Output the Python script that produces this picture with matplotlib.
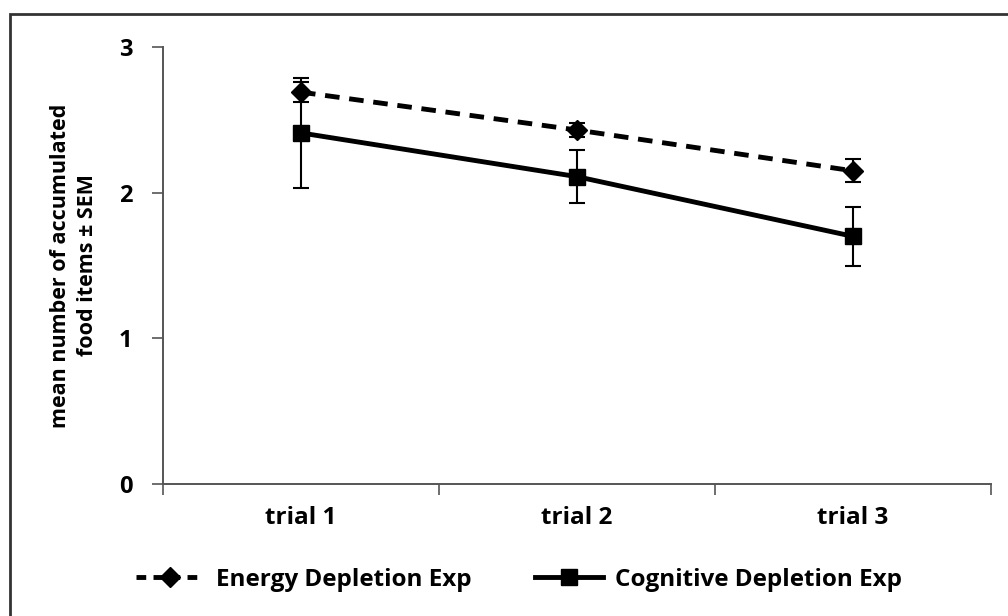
import numpy as np
import matplotlib.pyplot as plt
from matplotlib.patches import Rectangle
from matplotlib.lines import Line2D

trials = ['trial 1', 'trial 2', 'trial 3']
energy_mean = [2.69, 2.43, 2.15]
energy_sem = [0.07, 0.05, 0.08]
cog_mean = [2.41, 2.11, 1.70]
cog_sem = [0.38, 0.18, 0.20]

plt.rcParams['font.family'] = ['Open Sans', 'DejaVu Sans']
plt.rcParams['font.weight'] = 'bold'

fig = plt.figure(figsize=(10.08, 6.16), dpi=100)
ax = fig.add_axes([163/1008, 1-484/616, (991-163)/1008, (484-47)/616])

x = np.arange(1, len(trials) + 1)
ax.errorbar(x, energy_mean, yerr=energy_sem, color='black', lw=3.5, ls=(0, (3, 2)),
            marker='D', ms=10, capsize=6, elinewidth=1.5, capthick=1.5, zorder=3)
ax.errorbar(x, cog_mean, yerr=cog_sem, color='black', lw=3.5, ls='-',
            marker='s', ms=11, capsize=6, elinewidth=1.5, capthick=1.5, zorder=3)

ax.set_xlim(0.5, 3.5)
ax.set_ylim(0, 3)
ax.set_yticks([0, 1, 2, 3])
ax.set_xticks([0.5, 1.5, 2.5, 3.5])
ax.set_xticklabels([])
ax.set_xticks(x, minor=True)
ax.set_xticklabels(trials, minor=True)
ax.tick_params(axis='x', which='minor', length=0, pad=16, labelsize=17.5)
ax.tick_params(axis='x', which='major', length=8, width=1.2, color='#555555', direction='out')
ax.tick_params(axis='y', length=8, width=1.2, color='#555555', pad=14, labelsize=17)
for s in ['top', 'right']:
    ax.spines[s].set_visible(False)
for s in ['left', 'bottom']:
    ax.spines[s].set_color('#555555')
    ax.spines[s].set_linewidth(1.4)

ax.set_ylabel('mean number of accumulated\nfood items ± SEM', fontsize=15.5, fontweight='bold',
              labelpad=15, linespacing=1.35)

handles = [Line2D([], [], color='black', lw=3.5, ls=(0, (2, 1.5)), marker='D', ms=10),
           Line2D([], [], color='black', lw=3.5, ls='-', marker='s', ms=11)]
labels = ['Energy Depletion Exp', 'Cognitive Depletion Exp']
fig.legend(handles, labels, loc='center', bbox_to_anchor=(0.515, 1-580/616), ncol=2, frameon=False,
           fontsize=17.5, handlelength=2.8, columnspacing=2.6, handletextpad=0.5)

fig.add_artist(Rectangle((10/1008, -0.1), 1.2, 1-14/616+0.1, transform=fig.transFigure,
                         fill=False, edgecolor='#333333', lw=2))

fig.savefig('out.png', dpi=100)
